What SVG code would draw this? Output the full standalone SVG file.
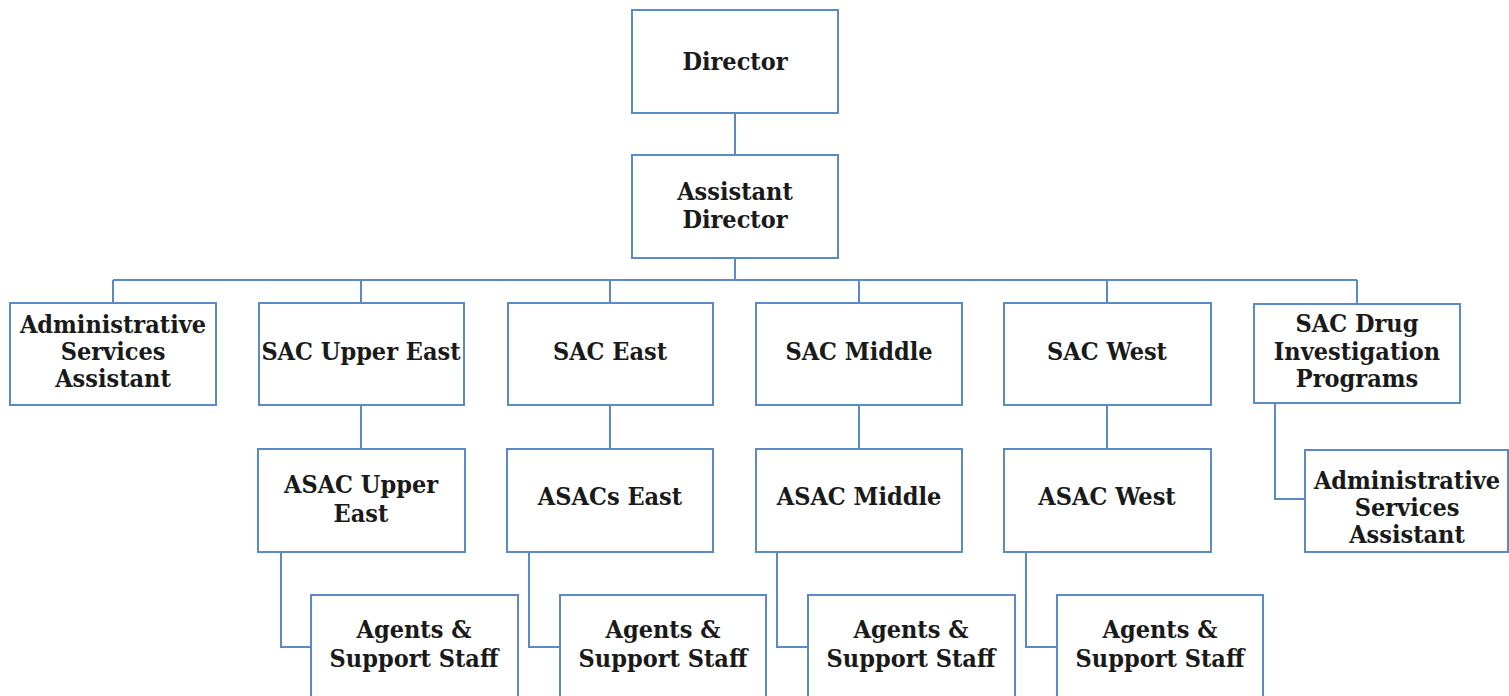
<svg xmlns="http://www.w3.org/2000/svg" width="1509" height="696" viewBox="0 0 1509 696">
  <style>
    .box { fill: #ffffff; stroke: #5b8bc6; stroke-width: 2; }
    .link { fill: none; stroke: #5b8bc6; stroke-width: 2; }
    text { font-family: "DejaVu Serif Condensed", "DejaVu Serif", "Liberation Serif", serif; font-stretch: condensed; font-weight: bold; font-size: 25px; fill: #1a1a1a; text-anchor: middle; }
  </style>
  <rect width="1509" height="696" fill="#ffffff"/>

  <!-- connectors -->
  <g id="connectors">
    <path class="link" d="M735 113 V155"/>
    <path class="link" d="M735 258 V280"/>
    <path class="link" d="M113 280 H1357"/>
    <path class="link" d="M113 280 V303 M361 280 V303 M610 280 V303 M859 280 V303 M1107 280 V303 M1357 280 V304"/>
    <path class="link" d="M361 405 V449 M610 405 V449 M859 405 V449 M1107 405 V449"/>
    <path class="link" d="M281 552 V647 H311"/>
    <path class="link" d="M529 552 V647 H560"/>
    <path class="link" d="M777 552 V647 H808"/>
    <path class="link" d="M1026 552 V647 H1057"/>
    <path class="link" d="M1275 403 V499 H1305"/>
  </g>

  <g id="director">
    <rect class="box" x="632" y="10" width="206" height="103"/>
    <text x="735" y="70">Director</text>
  </g>
  <g id="assistant-director">
    <rect class="box" x="632" y="155" width="206" height="103"/>
    <text x="735" y="200">Assistant</text>
    <text x="735" y="228">Director</text>
  </g>

  <g id="admin-services-assistant">
    <rect class="box" x="10" y="303" width="206" height="102"/>
    <text x="113" y="333">Administrative</text>
    <text x="113" y="360">Services</text>
    <text x="113" y="387">Assistant</text>
  </g>
  <g id="sac-upper-east">
    <rect class="box" x="259" y="303" width="205" height="102"/>
    <text x="361" y="360">SAC Upper East</text>
  </g>
  <g id="sac-east">
    <rect class="box" x="508" y="303" width="205" height="102"/>
    <text x="610" y="360">SAC East</text>
  </g>
  <g id="sac-middle">
    <rect class="box" x="756" y="303" width="206" height="102"/>
    <text x="859" y="360">SAC Middle</text>
  </g>
  <g id="sac-west">
    <rect class="box" x="1004" y="303" width="207" height="102"/>
    <text x="1107" y="360">SAC West</text>
  </g>
  <g id="sac-drug">
    <rect class="box" x="1254" y="304" width="206" height="99"/>
    <text x="1357" y="332">SAC Drug</text>
    <text x="1357" y="360">Investigation</text>
    <text x="1357" y="387">Programs</text>
  </g>

  <g id="asac-upper-east">
    <rect class="box" x="258" y="449" width="207" height="103"/>
    <text x="361" y="493">ASAC Upper</text>
    <text x="361" y="522">East</text>
  </g>
  <g id="asacs-east">
    <rect class="box" x="507" y="449" width="206" height="103"/>
    <text x="610" y="505">ASACs East</text>
  </g>
  <g id="asac-middle">
    <rect class="box" x="756" y="449" width="206" height="103"/>
    <text x="859" y="505">ASAC Middle</text>
  </g>
  <g id="asac-west">
    <rect class="box" x="1004" y="449" width="207" height="103"/>
    <text x="1107" y="505">ASAC West</text>
  </g>
  <g id="drug-admin-assistant">
    <rect class="box" x="1305" y="450" width="203" height="102"/>
    <text x="1407" y="489">Administrative</text>
    <text x="1407" y="516">Services</text>
    <text x="1407" y="543">Assistant</text>
  </g>

  <g id="agents-upper-east">
    <rect class="box" x="311" y="595" width="207" height="110"/>
    <text x="414" y="638">Agents &amp;</text>
    <text x="414" y="667">Support Staff</text>
  </g>
  <g id="agents-east">
    <rect class="box" x="560" y="595" width="206" height="110"/>
    <text x="663" y="638">Agents &amp;</text>
    <text x="663" y="667">Support Staff</text>
  </g>
  <g id="agents-middle">
    <rect class="box" x="808" y="595" width="207" height="110"/>
    <text x="911" y="638">Agents &amp;</text>
    <text x="911" y="667">Support Staff</text>
  </g>
  <g id="agents-west">
    <rect class="box" x="1057" y="595" width="206" height="110"/>
    <text x="1160" y="638">Agents &amp;</text>
    <text x="1160" y="667">Support Staff</text>
  </g>
</svg>
